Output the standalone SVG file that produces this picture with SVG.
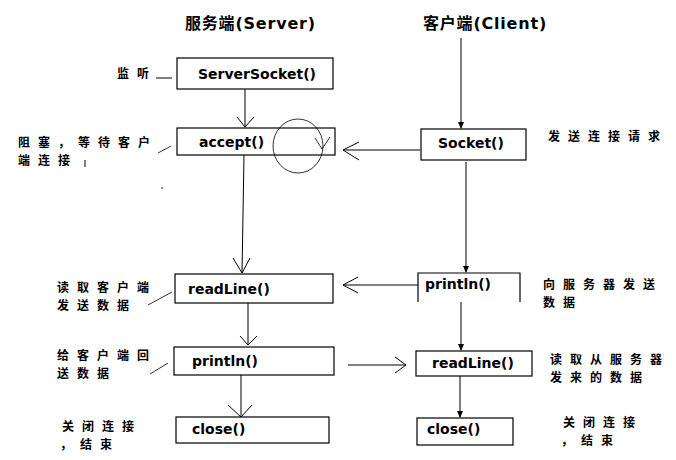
<svg xmlns="http://www.w3.org/2000/svg" width="676" height="460" viewBox="0 0 676 460">
<style>
.box{fill:#fff;stroke:#000;stroke-width:1.2}
.t{font-family:"DejaVu Sans","Liberation Sans",sans-serif;font-weight:bold;font-size:14px;fill:#000}
.cn{font-family:"Noto Sans CJK SC","DejaVu Sans",sans-serif;font-weight:bold;font-size:12px;letter-spacing:8px;fill:#000}
.ttl{font-family:"DejaVu Sans","Noto Sans CJK SC",sans-serif;font-weight:bold;font-size:16px;letter-spacing:0.8px;fill:#000}
.ln{stroke:#000;stroke-width:1;fill:none}
.lt{stroke:#000;stroke-width:0.8;fill:none}
</style>
<defs>
<marker id="fa" viewBox="0 0 8 8" refX="7" refY="4" markerWidth="7" markerHeight="7" markerUnits="userSpaceOnUse" orient="auto">
<path d="M0,0.5 L8,4 L0,7.5 Z" fill="#000"/>
</marker>
</defs>
<rect width="676" height="460" fill="#fff"/>
<text class="ttl" x="185" y="29">服务端(Server)</text>
<text class="ttl" x="423" y="29">客户端(Client)</text>
<g id="s_serversocket"><rect class="box" x="177" y="58" width="156" height="31"/><text class="t" x="198" y="79">ServerSocket()</text></g>
<g id="s_accept"><rect class="box" x="177" y="128" width="158" height="27"/><text class="t" x="199" y="147">accept()</text></g>
<g id="s_readline"><rect class="box" x="175" y="274" width="158" height="29"/><text class="t" x="188" y="294">readLine()</text></g>
<g id="s_println"><rect class="box" x="174" y="347" width="160" height="28"/><text class="t" x="192" y="366">println()</text></g>
<g id="s_close"><rect class="box" x="176" y="417" width="153" height="26"/><text class="t" x="192" y="434">close()</text></g>
<g id="c_socket"><rect class="box" x="421" y="129" width="105" height="31"/><text class="t" x="438" y="148">Socket()</text></g>
<g id="c_println"><path class="box" d="M418,302 L418,273 L520,273 L520,302"/><text class="t" x="425" y="289">println()</text></g>
<g id="c_readline"><rect class="box" x="416" y="351" width="116" height="25"/><text class="t" x="432" y="368">readLine()</text></g>
<g id="c_close"><rect class="box" x="417" y="418" width="96" height="27"/><text class="t" x="427" y="434">close()</text></g>
<g id="connectors">
<path class="ln" d="M245,89 L245,127 M237,117 L245,127 L254,117"/>
<path class="ln" d="M244,155 L242,273 M233,258 L242,273 L250,258"/>
<path class="ln" d="M248,303 L248,345 M240,336 L248,345 L257,336"/>
<path class="ln" d="M241,375 L241,417 M228,405 L241,417 L252,405"/>
<line class="ln" x1="461" y1="38" x2="461" y2="128" marker-end="url(#fa)"/>
<line class="ln" x1="466" y1="162" x2="466" y2="272" marker-end="url(#fa)"/>
<line class="ln" x1="461" y1="302" x2="461" y2="350" marker-end="url(#fa)"/>
<line class="ln" x1="460" y1="376" x2="460" y2="417" marker-end="url(#fa)"/>
<path class="ln" d="M420,150 L343,150 M359,142 L343,150 L359,160"/>
<path class="ln" d="M418,285 L343,285 M358,277 L343,285 L358,293"/>
<path class="ln" d="M348,365 L406,365 M395,357 L406,365 L395,373"/>
</g>
<g id="annotations">
<text class="cn" x="117" y="78">监听</text>
<line class="ln" x1="156" y1="78" x2="172" y2="78"/>
<text class="cn"><tspan x="18" y="147">阻塞，等待客户</tspan><tspan x="18" dy="18">端连接</tspan></text>
<line class="ln" x1="85" y1="160" x2="85" y2="167"/>
<line class="lt" x1="158" y1="153" x2="171" y2="146"/>
<circle cx="162" cy="188" r="0.8" fill="#000"/>
<ellipse class="lt" cx="298" cy="146" rx="25" ry="27"/>
<path class="lt" d="M315,138 L322,149 L330,137"/>
<text class="cn" x="548" y="141">发送连接请求</text>
<text class="cn"><tspan x="57" y="292">读取客户端</tspan><tspan x="57" dy="18">发送数据</tspan></text>
<line class="lt" x1="148" y1="305" x2="172" y2="292"/>
<text class="cn"><tspan x="57" y="360">给客户端回</tspan><tspan x="57" dy="18">送数据</tspan></text>
<line class="lt" x1="150" y1="374" x2="168" y2="363"/>
<text class="cn"><tspan x="62" y="431">关闭连接</tspan><tspan x="60" dy="18">，结束</tspan></text>
<text class="cn"><tspan x="543" y="289">向服务器发送</tspan><tspan x="543" dy="18">数据</tspan></text>
<text class="cn"><tspan x="550" y="364">读取从服务器</tspan><tspan x="550" dy="18">发来的数据</tspan></text>
<text class="cn"><tspan x="563" y="427">关闭连接</tspan><tspan x="561" dy="18">，结束</tspan></text>
</g>
</svg>
